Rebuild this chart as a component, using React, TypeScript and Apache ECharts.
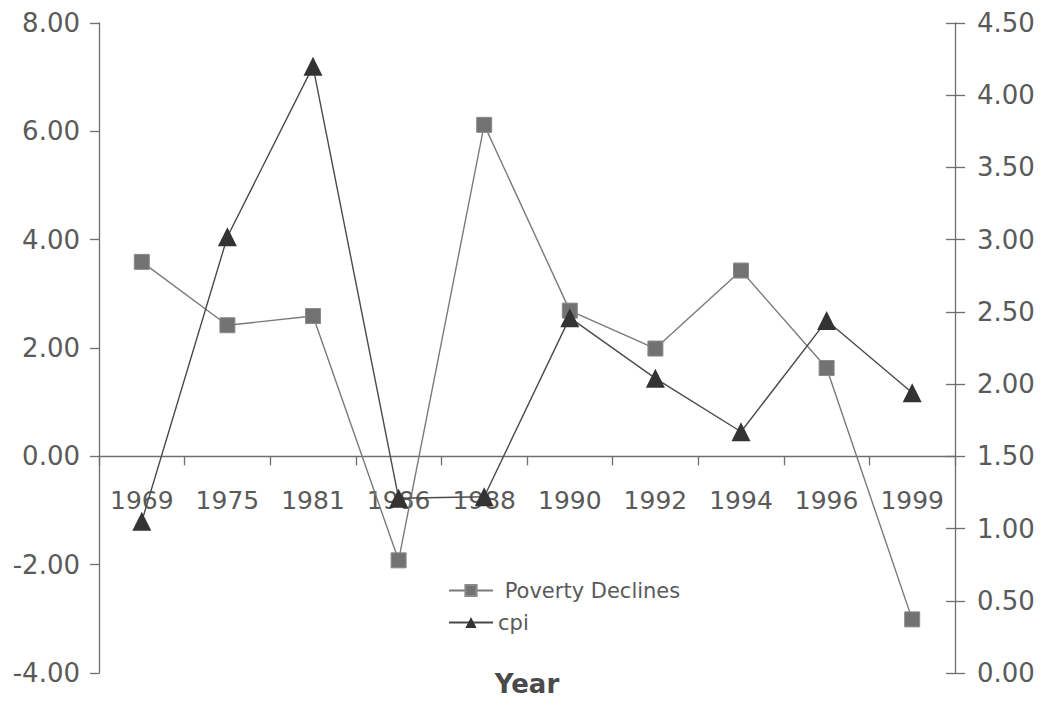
import React, { useEffect, useRef } from "react";
import * as echarts from "echarts";

const years = ["1969", "1975", "1981", "1986", "1988", "1990", "1992", "1994", "1996", "1999"];
const povertyDeclines = [3.59, 2.42, 2.59, -1.92, 6.12, 2.69, 1.99, 3.43, 1.63, -3.01];
const cpi = [1.05, 3.02, 4.2, 1.21, 1.22, 2.46, 2.04, 1.67, 2.44, 1.94];

const FONT = "DejaVu Sans";
const AXIS_COLOR = "#6f6f6f";
const LABEL_COLOR = "#5a5a5a";

const GRID_TOP = 23;
const GRID_BOTTOM = 29;
const CHART_H = 702;
const LEFT_MIN = -4;
const LEFT_MAX = 8;

export default function App() {
  const ref = useRef<HTMLDivElement>(null);
  useEffect(() => {
    if (!ref.current) return;
    const chart = echarts.init(ref.current, undefined, { renderer: "svg" });
    const plotH = CHART_H - GRID_TOP - GRID_BOTTOM;
    // move the category axis up to the zero line of the left axis
    const zeroOffset = -(plotH * (0 - LEFT_MIN)) / (LEFT_MAX - LEFT_MIN);
    chart.setOption({
      animation: false,
      backgroundColor: "#ffffff",
      textStyle: { fontFamily: FONT },
      grid: { left: 99, right: 94, top: GRID_TOP, bottom: GRID_BOTTOM, containLabel: false },
      legend: {
        orient: "vertical",
        left: 443,
        top: 575,
        itemWidth: 44,
        itemHeight: 14,
        itemGap: 11,
        formatter: (name: string) => (name === "Poverty Declines" ? " " + name : name),
        textStyle: { fontFamily: FONT, fontSize: 21, color: LABEL_COLOR },
        data: ["Poverty Declines", "cpi"],
      },
      graphic: [
        {
          type: "text",
          x: 527,
          y: 684,
          style: {
            text: "Year",
            font: `bold 26px "${FONT}"`,
            fill: "#4a4a4a",
            textAlign: "center",
            textVerticalAlign: "middle",
          },
        },
      ],
      xAxis: {
        type: "category",
        data: years,
        boundaryGap: true,
        position: "bottom",
        offset: zeroOffset,
        axisLine: { onZero: false, lineStyle: { color: AXIS_COLOR, width: 1.3 } },
        axisTick: { show: true, alignWithLabel: false, length: 9, lineStyle: { color: AXIS_COLOR, width: 1.3 } },
        axisLabel: { margin: 32, fontSize: 25, color: LABEL_COLOR, fontFamily: FONT, interval: 0 },
        splitLine: { show: false },
      },
      yAxis: [
        {
          type: "value",
          position: "left",
          min: LEFT_MIN,
          max: LEFT_MAX,
          interval: 2,
          axisLine: { show: true, lineStyle: { color: AXIS_COLOR, width: 1.3 } },
          axisTick: { show: true, length: 9, lineStyle: { color: AXIS_COLOR, width: 1.3 } },
          axisLabel: {
            margin: 19,
            fontSize: 26,
            color: LABEL_COLOR,
            fontFamily: FONT,
            formatter: (v: number) => v.toFixed(2),
          },
          splitLine: { show: false },
        },
        {
          type: "value",
          position: "right",
          min: 0,
          max: 4.5,
          interval: 0.5,
          axisLine: { show: true, lineStyle: { color: AXIS_COLOR, width: 1.3 } },
          axisTick: { show: true, length: 10, lineStyle: { color: AXIS_COLOR, width: 1.3 } },
          axisLabel: {
            margin: 22,
            fontSize: 26,
            color: LABEL_COLOR,
            fontFamily: FONT,
            formatter: (v: number) => v.toFixed(2),
          },
          splitLine: { show: false },
        },
        {
          type: "value",
          position: "right",
          min: 0,
          max: 4.5,
          interval: 0.5,
          axisLine: { show: false },
          axisTick: { show: true, inside: true, length: 9, lineStyle: { color: AXIS_COLOR, width: 1.3 } },
          axisLabel: { show: false },
          splitLine: { show: false },
        },
      ],
      series: [
        {
          name: "Poverty Declines",
          type: "line",
          yAxisIndex: 0,
          data: povertyDeclines,
          symbol: "rect",
          symbolSize: 15,
          lineStyle: { color: "#7a7a7a", width: 1.4 },
          itemStyle: { color: "#727272", borderColor: "#8a8a8a", borderWidth: 1 },
          z: 3,
        },
        {
          name: "cpi",
          type: "line",
          yAxisIndex: 1,
          data: cpi,
          symbol: "triangle",
          symbolSize: 19,
          lineStyle: { color: "#4a4a4a", width: 1.4 },
          itemStyle: { color: "#333333" },
          z: 4,
        },
      ],
    });
    return () => chart.dispose();
  }, []);
  return (
    <div
      ref={ref}
      style={{ position: "absolute", left: 0, top: 0, width: 1049, height: 702 }}
    />
  );
}
